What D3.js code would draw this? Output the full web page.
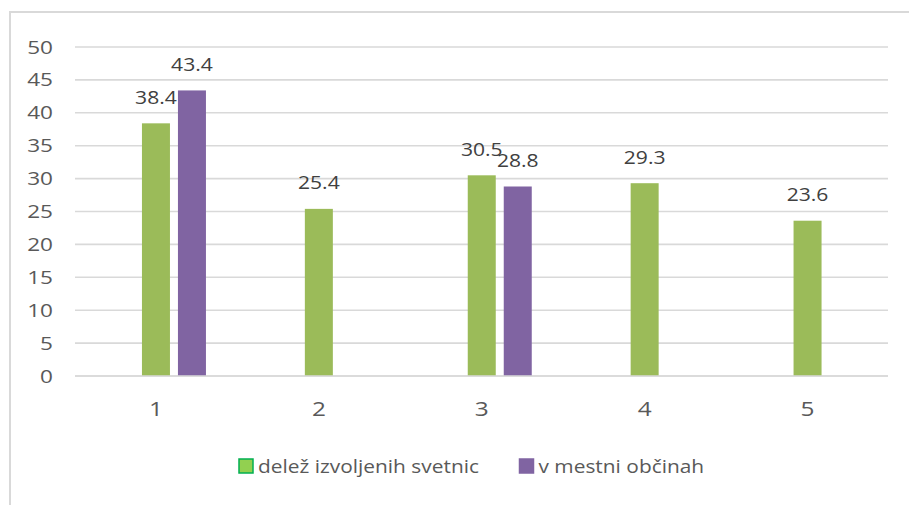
<!DOCTYPE html>
<html>
<head>
<meta charset="utf-8">
<style>
  body { margin: 0; background: #fff; }
  svg { display: block; }
  text { font-family: "Open Sans", sans-serif; fill: #595959; }
</style>
</head>
<body>
<script src="https://cdn.jsdelivr.net/npm/d3@7/dist/d3.min.js"></script>
<script>
// chart data
var categories = ["1", "2", "3", "4", "5"];
var svetnice = [38.4, 25.4, 30.5, 29.3, 23.6];      // delež izvoljenih svetnic
var mestne = [43.4, null, 28.8, null, null];        // v mestni občinah
var seriesNames = ["delež izvoljenih svetnic", "v mestni občinah"];
var yTicks = [0, 5, 10, 15, 20, 25, 30, 35, 40, 45, 50];

var width = 909, height = 505;
var stretch = 1.22; // text in the picture is a bit wide

var svg = d3.select("body").append("svg")
    .attr("width", width)
    .attr("height", height);

// outer frame (only top and left visible)
svg.append("path")
    .attr("d", "M10,505V12H909")
    .attr("fill", "none")
    .attr("stroke", "#d9d9d9")
    .attr("stroke-width", 2);

var x = d3.scaleBand()
    .domain(categories)
    .range([74.5, 889]);

var y = d3.scaleLinear()
    .domain([0, 50])
    .range([376, 47]);

// green bar sits on the category centre, purple to its right
var xs = d3.scaleBand()
    .domain(seriesNames)
    .range([-14, 50])
    .paddingInner(8 / 36);

// grid lines
svg.append("g")
    .selectAll("line")
    .data(yTicks)
    .enter().append("line")
    .attr("x1", 75)
    .attr("x2", 888)
    .attr("y1", function(d) { return y(d); })
    .attr("y2", function(d) { return y(d); })
    .attr("stroke", "#d9d9d9")
    .attr("stroke-width", 1.6);

// y tick labels
svg.append("g")
    .selectAll("text")
    .data(yTicks)
    .enter().append("text")
    .attr("text-anchor", "end")
    .attr("transform", function(d) { return "translate(53," + (y(d) + 6.5) + ") scale(" + stretch + ",1)"; })
    .style("font-size", "18.5px")
    .text(function(d) { return d; });

// x labels
svg.append("g")
    .selectAll("text")
    .data(categories)
    .enter().append("text")
    .attr("text-anchor", "middle")
    .attr("transform", function(d) { return "translate(" + (x(d) + x.bandwidth() / 2) + ",416) scale(" + stretch + ",1)"; })
    .style("font-size", "20px")
    .text(function(d) { return d; });

var rows = categories.map(function(c, i) {
  return [
    {cat: c, s: seriesNames[0], v: svetnice[i], color: "#9bbb59"},
    {cat: c, s: seriesNames[1], v: mestne[i], color: "#8064a2"}
  ].filter(function(d) { return d.v != null; });
});
var bars = [].concat.apply([], rows);

svg.append("g")
    .selectAll("rect")
    .data(bars)
    .enter().append("rect")
    .attr("x", function(d) { return x(d.cat) + x.bandwidth() / 2 + xs(d.s); })
    .attr("width", xs.bandwidth())
    .attr("y", function(d) { return y(d.v); })
    .attr("height", function(d) { return y(0) - y(d.v); })
    .attr("fill", function(d) { return d.color; });

// baseline on top of bars
svg.append("line")
    .attr("x1", 75).attr("x2", 888)
    .attr("y1", y(0)).attr("y2", y(0))
    .attr("stroke", "#d9d9d9")
    .attr("stroke-width", 1.6);

// data labels
svg.append("g")
    .selectAll("text")
    .data(bars)
    .enter().append("text")
    .attr("text-anchor", "middle")
    .attr("transform", function(d) {
      var cx = x(d.cat) + x.bandwidth() / 2 + xs(d.s) + xs.bandwidth() / 2;
      return "translate(" + cx + "," + (y(d.v) - 19.5) + ") scale(1.14,1)";
    })
    .style("font-size", "18.5px")
    .style("fill", "#404040")
    .text(function(d) { return d.v.toFixed(1); });

// legend
var legend = [
  {name: seriesNames[0], fill: "#92d050", stroke: "#00b050", x: 239},
  {name: seriesNames[1], fill: "#8064a2", stroke: "#8064a2", x: 519.5}
];
var lg = svg.append("g")
    .selectAll("g")
    .data(legend)
    .enter().append("g")
    .attr("transform", function(d) { return "translate(" + d.x + ",459)"; });

lg.append("rect")
    .attr("width", 14)
    .attr("height", 14)
    .attr("fill", function(d) { return d.fill; })
    .attr("stroke", function(d) { return d.stroke; })
    .attr("stroke-width", 1.5);

lg.append("text")
    .attr("transform", "translate(19,14) scale(1.13,1)")
    .style("font-size", "18.5px")
    .text(function(d) { return d.name; });
</script>
</body>
</html>
